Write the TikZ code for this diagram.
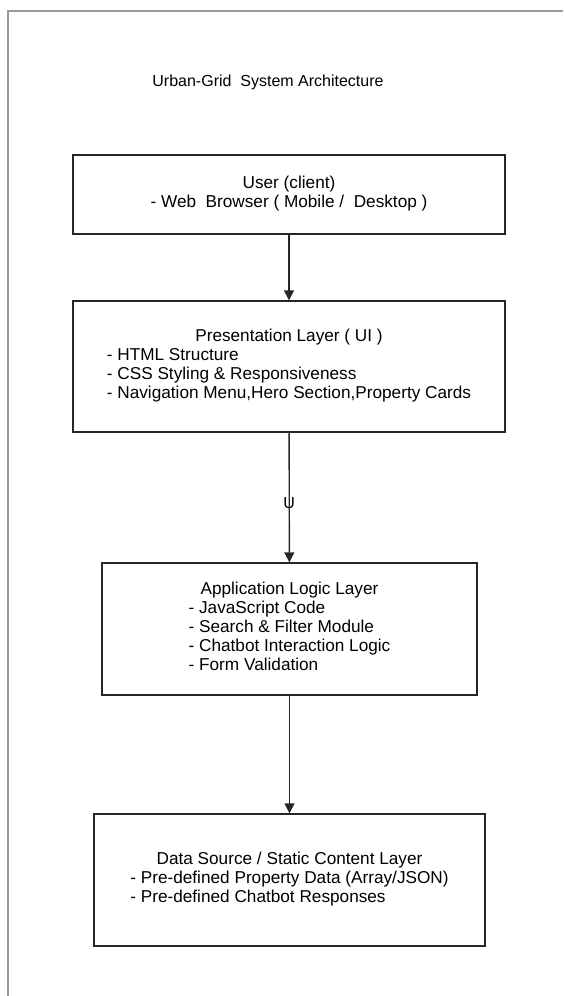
\documentclass[tikz,border=0pt]{standalone}
\usepackage{fontspec}
\setmainfont{Liberation Sans}
\usetikzlibrary{arrows.meta,positioning}
\tikzset{layer/.style={draw=black!85, line width=1.4pt, inner sep=0pt, font=\fontsize{17.2}{19}\selectfont}}
\tikzset{flow/.style={draw=black!85, line width=1.4pt, -{Triangle[width=10pt,length=10pt]}}}
\tikzset{plain/.style={inner sep=0pt, font=\fontsize{16}{19}\selectfont}}

\begin{document}
\begin{tikzpicture}[x=1pt, y=-1pt]
    \useasboundingbox (0,0) rectangle (563,996);
    \draw[black!40, line width=1.6pt] (8,996) -- (8,11) -- (563,11);

    \node[plain] (title) at (268, 82) {Urban-Grid\ \ System Architecture};

    \node[layer, minimum width=432, minimum height=79] (user) at (289, 194.5)
        {\begin{tabular}{@{}c@{}}User (client)\\ - Web\ \ Browser ( Mobile /\ \ Desktop )\end{tabular}};

    \node[layer, minimum width=432, minimum height=131] (ui) at (289, 366.5)
        {\begin{tabular}{@{}l@{}}
            \multicolumn{1}{@{}c@{}}{Presentation Layer ( UI )}\\
            - HTML Structure\\
            - CSS Styling \& Responsiveness\\
            - Navigation Menu,Hero Section,Property Cards
        \end{tabular}};

    \node[layer, minimum width=375, minimum height=132] (logic) at (289.5, 629)
        {\begin{tabular}{@{}l@{}}
            \multicolumn{1}{@{}c@{}}{Application Logic Layer}\\
            - JavaScript Code\\
            - Search \& Filter Module\\
            - Chatbot Interaction Logic\\
            - Form Validation
        \end{tabular}};

    \node[layer, minimum width=391, minimum height=132] (data) at (289.5, 880)
        {\begin{tabular}{@{}l@{}}
            \multicolumn{1}{@{}c@{}}{Data Source / Static Content Layer}\\
            - Pre-defined Property Data (Array/JSON)\\
            - Pre-defined Chatbot Responses
        \end{tabular}};

    \draw[flow] (user) -- (ui);
    \draw[flow] (ui) -- node[plain, pos=0.54] (via) {U} (logic);
    \draw[flow] (logic) -- (data);
\end{tikzpicture}
\end{document}
